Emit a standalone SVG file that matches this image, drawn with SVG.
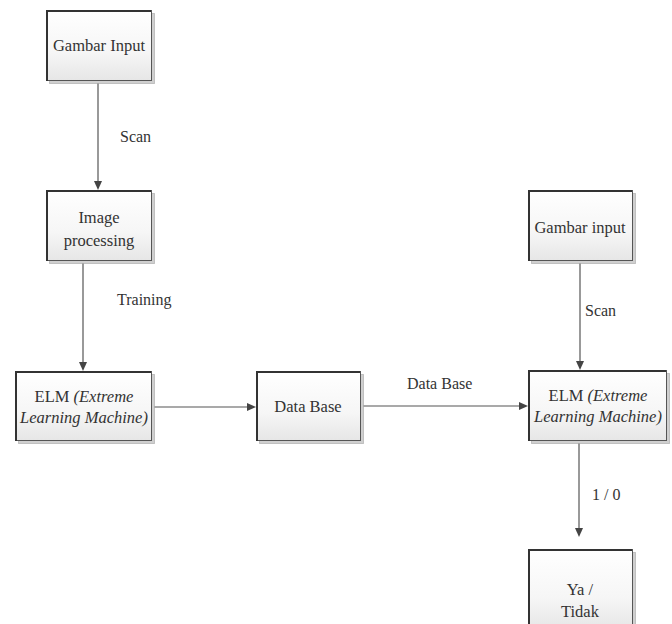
<svg xmlns="http://www.w3.org/2000/svg" width="672" height="624" viewBox="0 0 672 624">
<defs>
<linearGradient id="g" x1="0" y1="0" x2="0" y2="1">
<stop offset="0" stop-color="#ffffff"/>
<stop offset="0.6" stop-color="#f6f6f6"/>
<stop offset="1" stop-color="#e6e6e6"/>
</linearGradient>
</defs>
<style>
.box{fill:url(#g);stroke:#555;stroke-width:1}
.edge{stroke:#333;stroke-width:2;fill:none}
.sh{fill:#cfcfcf;stroke:#999;stroke-width:1;stroke-dasharray:1 1}
.t{font-family:"Liberation Serif",serif;font-size:16.5px;fill:#333;text-anchor:middle}
.l{font-family:"Liberation Serif",serif;font-size:16px;fill:#333}
.i{font-style:italic}
.ln{stroke:#555;stroke-width:1.2;fill:none}
.ah{fill:#444}
</style>
<rect width="672" height="624" fill="#fff"/>
<g id="connectors">
<line class="ln" x1="98" y1="81" x2="98" y2="184"/>
<polygon class="ah" points="94,181 102,181 98,190"/>
<line class="ln" x1="83" y1="261" x2="83" y2="365"/>
<polygon class="ah" points="79,362 87,362 83,371"/>
<line class="ln" x1="152" y1="407" x2="250" y2="407"/>
<polygon class="ah" points="247,403 247,411 256,407"/>
<line class="ln" x1="361" y1="406" x2="522" y2="406"/>
<polygon class="ah" points="519,402 519,410 528,406"/>
<line class="ln" x1="580" y1="261" x2="580" y2="364"/>
<polygon class="ah" points="576,361 584,361 580,370"/>
<line class="ln" x1="579" y1="441" x2="579" y2="531"/>
<polygon class="ah" points="575,528 583,528 579,537"/>
<text class="l" x="120" y="142" font-family="Liberation Serif">Scan</text>
<text class="l" x="117" y="305" font-family="Liberation Serif">Training</text>
<text class="l" x="407" y="389" font-family="Liberation Serif">Data Base</text>
<text class="l" x="585" y="316" font-family="Liberation Serif">Scan</text>
<text class="l" x="592" y="500" font-family="Liberation Serif">1 / 0</text>
</g>
<g id="gambar-input-1">
<rect class="sh" x="49.5" y="13.5" width="105" height="70"/>
<rect class="box" x="46.5" y="10.5" width="105" height="70"/>
<path class="edge" d="M47,81 V11 H151"/>
<text class="t" x="99" y="51" font-family="Liberation Serif">Gambar Input</text>
</g>
<g id="image-processing">
<rect class="sh" x="49.5" y="193.5" width="105" height="70"/>
<rect class="box" x="46.5" y="190.5" width="105" height="70"/>
<path class="edge" d="M47,261 V191 H151"/>
<text class="t" x="99" y="223" font-family="Liberation Serif">Image</text>
<text class="t" x="99" y="246" font-family="Liberation Serif">processing</text>
</g>
<g id="elm-1">
<rect class="sh" x="18.5" y="374.5" width="136" height="69"/>
<rect class="box" x="15.5" y="371.5" width="136" height="69"/>
<path class="edge" d="M16,441 V372 H151"/>
<text class="t" x="84" y="402" font-family="Liberation Serif">ELM <tspan class="i">(Extreme</tspan></text>
<text class="t i" x="84" y="423" font-family="Liberation Serif">Learning Machine)</text>
</g>
<g id="data-base">
<rect class="sh" x="259.5" y="374.5" width="104" height="69"/>
<rect class="box" x="256.5" y="371.5" width="104" height="69"/>
<path class="edge" d="M257,441 V372 H360"/>
<text class="t" x="308" y="412" font-family="Liberation Serif">Data Base</text>
</g>
<g id="gambar-input-2">
<rect class="sh" x="531.5" y="193.5" width="104" height="70"/>
<rect class="box" x="528.5" y="190.5" width="104" height="70"/>
<path class="edge" d="M529,261 V191 H632"/>
<text class="t" x="580" y="233" font-family="Liberation Serif">Gambar input</text>
</g>
<g id="elm-2">
<rect class="sh" x="531.5" y="373.5" width="138" height="70"/>
<rect class="box" x="528.5" y="370.5" width="138" height="70"/>
<path class="edge" d="M529,441 V371 H666"/>
<text class="t" x="598" y="401" font-family="Liberation Serif">ELM <tspan class="i">(Extreme</tspan></text>
<text class="t i" x="598" y="422" font-family="Liberation Serif">Learning Machine)</text>
</g>
<g id="ya-tidak">
<rect class="sh" x="531.5" y="552.5" width="104" height="80"/>
<rect class="box" x="528.5" y="549.5" width="104" height="80"/>
<path class="edge" d="M529,630 V550 H632"/>
<text class="t" x="580" y="595" font-family="Liberation Serif">Ya /</text>
<text class="t" x="580" y="617" font-family="Liberation Serif">Tidak</text>
</g>
</svg>
